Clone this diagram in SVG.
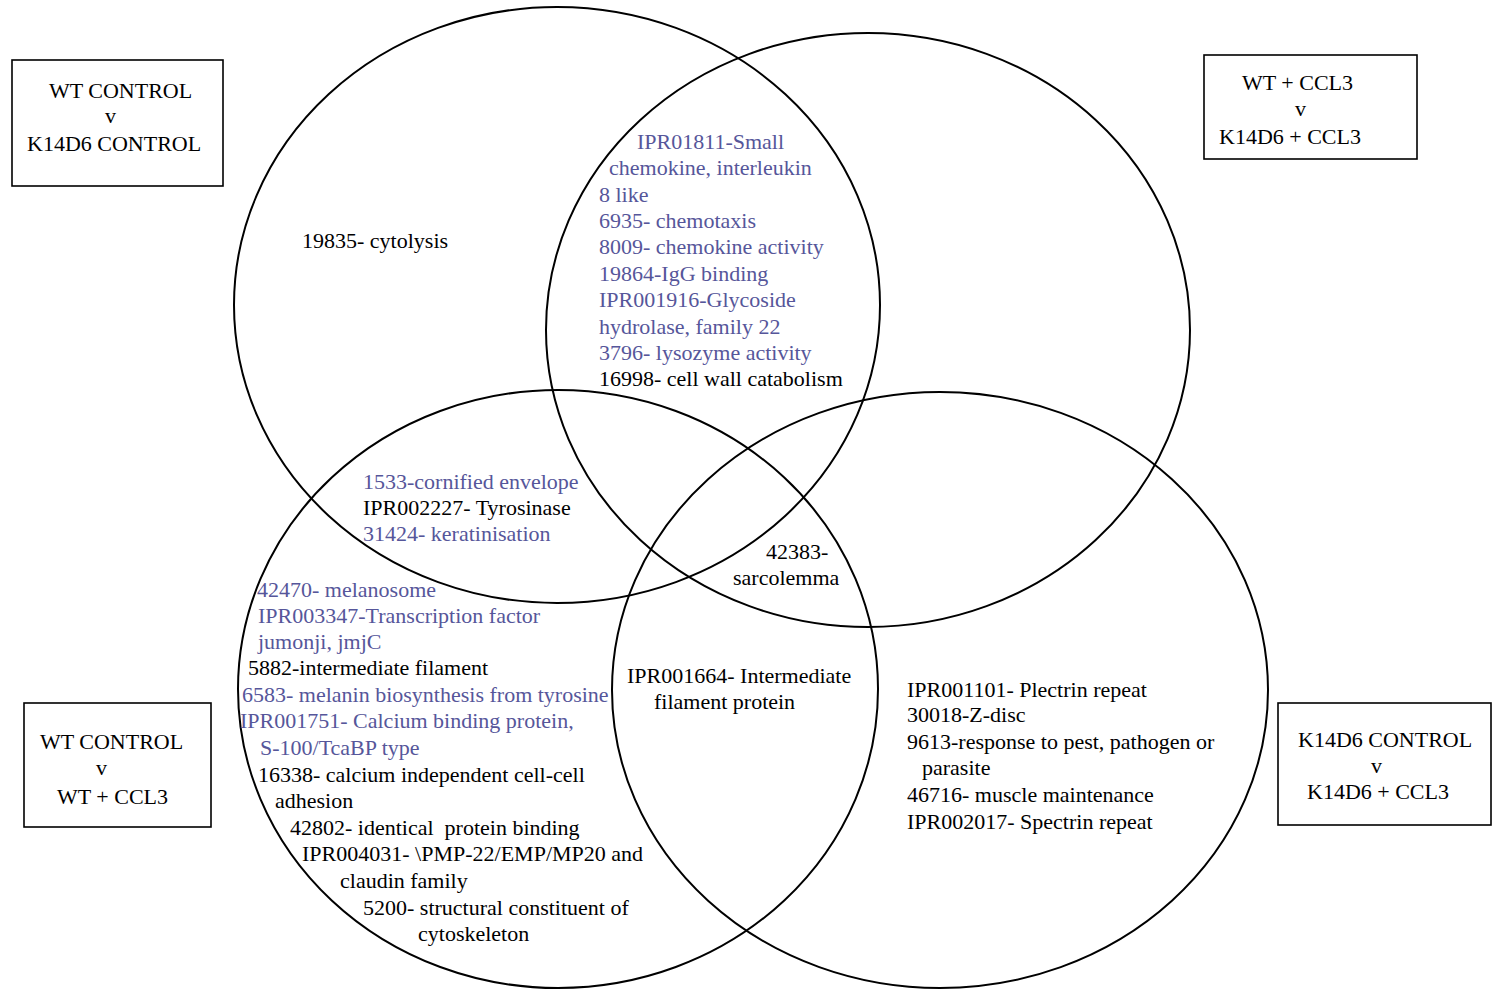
<svg xmlns="http://www.w3.org/2000/svg" width="1499" height="990" viewBox="0 0 1499 990">
<style>
text{font-family:"Liberation Serif","Times New Roman",serif;font-size:22px;fill:#000}
.b{fill:#56569a}
.c{fill:none;stroke:#000;stroke-width:2}
.box{fill:#fff;stroke:#000;stroke-width:1.6}
</style>
<rect width="1499" height="990" fill="#fff"/>
<g id="connectors">
<ellipse class="c" cx="557" cy="305" rx="323" ry="298"/>
<ellipse class="c" cx="868" cy="330" rx="322" ry="297"/>
<ellipse class="c" cx="558" cy="689" rx="320" ry="299"/>
<ellipse class="c" cx="940" cy="690" rx="328" ry="298"/>
</g>
<g id="box-wt-control-v-k14d6-control">
<rect class="box" x="12" y="60" width="211" height="126"/>
<text x="49" y="98">WT CONTROL</text>
<text x="105" y="123">v</text>
<text x="27" y="151">K14D6 CONTROL</text>
</g>
<g id="box-wt-ccl3-v-k14d6-ccl3">
<rect class="box" x="1204" y="55" width="213" height="104"/>
<text x="1242" y="90">WT + CCL3</text>
<text x="1295" y="116">v</text>
<text x="1219" y="144">K14D6 + CCL3</text>
</g>
<g id="box-wt-control-v-wt-ccl3">
<rect class="box" x="24" y="703" width="187" height="124"/>
<text x="40" y="749">WT CONTROL</text>
<text x="96" y="775">v</text>
<text x="57" y="804">WT + CCL3</text>
</g>
<g id="box-k14d6-control-v-k14d6-ccl3">
<rect class="box" x="1278" y="703" width="213" height="122"/>
<text x="1298" y="747">K14D6 CONTROL</text>
<text x="1371" y="773">v</text>
<text x="1307" y="799">K14D6 + CCL3</text>
</g>
<g id="region-top-left">
<text x="302" y="248">19835- cytolysis</text>
</g>
<g id="region-top-overlap">
<text class="b" x="637" y="149">IPR01811-Small</text>
<text class="b" x="609" y="175">chemokine, interleukin</text>
<text class="b" x="599" y="202">8 like</text>
<text class="b" x="599" y="228">6935- chemotaxis</text>
<text class="b" x="599" y="254">8009- chemokine activity</text>
<text class="b" x="599" y="281">19864-IgG binding</text>
<text class="b" x="599" y="307">IPR001916-Glycoside</text>
<text class="b" x="599" y="334">hydrolase, family 22</text>
<text class="b" x="599" y="360">3796- lysozyme activity</text>
<text x="599" y="386">16998- cell wall catabolism</text>
</g>
<g id="region-left-overlap">
<text class="b" x="363" y="489">1533-cornified envelope</text>
<text x="363" y="515">IPR002227- Tyrosinase</text>
<text class="b" x="363" y="541">31424- keratinisation</text>
</g>
<g id="region-bottom-left">
<text class="b" x="257" y="597">42470- melanosome</text>
<text class="b" x="258" y="623">IPR003347-Transcription factor</text>
<text class="b" x="258" y="649">jumonji, jmjC</text>
<text x="248" y="675">5882-intermediate filament</text>
<text class="b" x="242" y="702">6583- melanin biosynthesis from tyrosine</text>
<text class="b" x="240" y="728">IPR001751- Calcium binding protein,</text>
<text class="b" x="260" y="755">S-100/TcaBP type</text>
<text x="258" y="782">16338- calcium independent cell-cell</text>
<text x="275" y="808">adhesion</text>
<text x="290" y="835" xml:space="preserve">42802- identical  protein binding</text>
<text x="302" y="861">IPR004031- \PMP-22/EMP/MP20 and</text>
<text x="340" y="888">claudin family</text>
<text x="363" y="915">5200- structural constituent of</text>
<text x="418" y="941">cytoskeleton</text>
</g>
<g id="region-center">
<text x="766" y="559">42383-</text>
<text x="733" y="585">sarcolemma</text>
</g>
<g id="region-bottom-overlap">
<text x="627" y="683">IPR001664- Intermediate</text>
<text x="654" y="709">filament protein</text>
</g>
<g id="region-bottom-right">
<text x="907" y="697">IPR001101- Plectrin repeat</text>
<text x="907" y="722">30018-Z-disc</text>
<text x="907" y="749">9613-response to pest, pathogen or</text>
<text x="922" y="775">parasite</text>
<text x="907" y="802">46716- muscle maintenance</text>
<text x="907" y="829">IPR002017- Spectrin repeat</text>
</g>
</svg>
